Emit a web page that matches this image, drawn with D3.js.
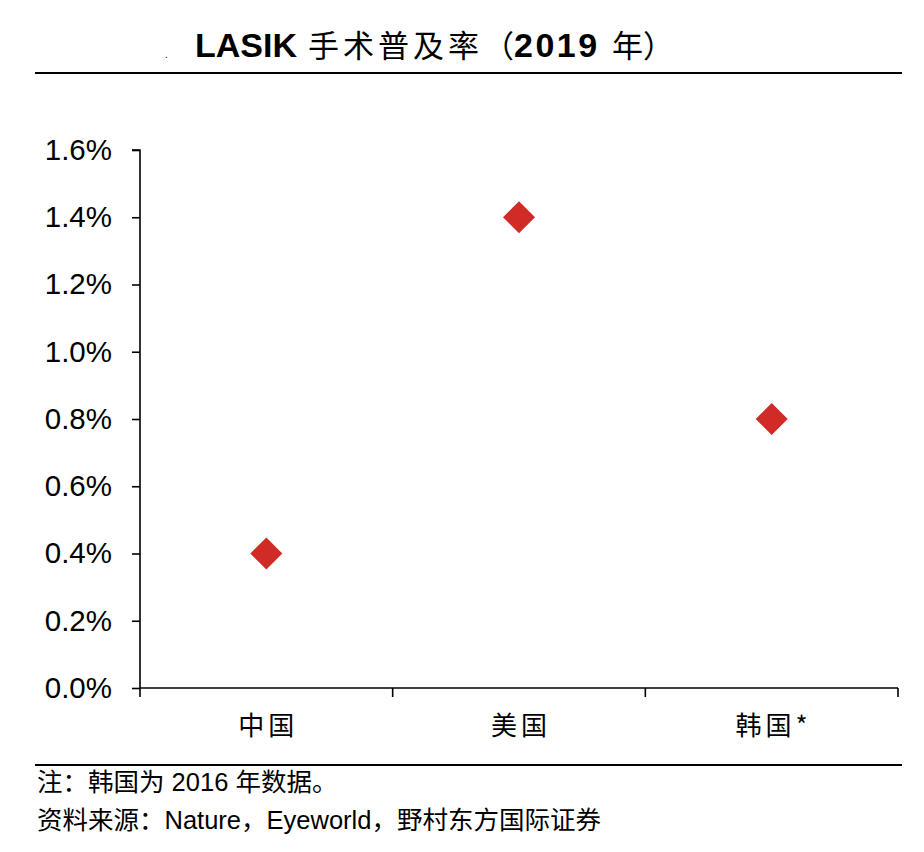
<!DOCTYPE html>
<html><head><meta charset="utf-8">
<script src="https://cdn.jsdelivr.net/npm/d3@7"></script>
<style>body{margin:0;background:#fff}svg{display:block}</style>
</head><body><svg id="c" width="924" height="852"></svg>
<script>
const categories = ["中国", "美国", "韩国*"];
const values = [0.4, 1.4, 0.8];
const yTicks = [0, 0.2, 0.4, 0.6, 0.8, 1.0, 1.2, 1.4, 1.6];
const titleParts = ["LASIK", "手术普及率（", "2019", "年", "）"];
const notes = ["注：韩国为 2016 年数据。", "资料来源：Nature，Eyeworld，野村东方国际证券"];

(function () {
const svg = d3.select("#c");
const latin = "'Liberation Sans', Arial, 'Noto Sans CJK SC', sans-serif";
const cjk = "'Noto Sans CJK SC', sans-serif";
const pL = 140, pR = 898, pT = 150, pB = 688;

// stray dot in the original header
svg.append("text").attr("x", 165).attr("y", 58).attr("font-family", latin)
  .attr("font-size", 10).attr("fill", "#000").text(".");

const t = svg.append("text").attr("y", 57).attr("fill", "#000");
const tStyle = [
  {x: 195, f: latin, s: 34, w: "bold", ls: 0},
  {x: 308, f: cjk, s: 31, w: "normal", ls: 4},
  {x: 514, f: latin, s: 34, w: "bold", ls: 2.5},
  {x: 612, f: cjk, s: 31, w: "normal", ls: 0},
  {x: 643, f: cjk, s: 31, w: "normal", ls: 0}
];
titleParts.forEach((p, i) => {
  const st = tStyle[i];
  t.append("tspan").attr("x", st.x).attr("font-family", st.f).attr("font-size", st.s)
    .attr("font-weight", st.w).attr("letter-spacing", st.ls).text(p);
});
svg.append("line").attr("x1", 35).attr("x2", 902).attr("y1", 73).attr("y2", 73)
  .attr("stroke", "#000").attr("stroke-width", 2);

const x = d3.scaleBand().domain(categories).range([pL, pR]).padding(0);
const y = d3.scaleLinear().domain([0, 1.6]).range([pB, pT]);

const gy = svg.append("g").attr("transform", `translate(${pL},0)`)
  .call(d3.axisLeft(y).tickValues(yTicks).tickSize(8).tickPadding(20).tickFormat(d => d.toFixed(1) + "%"));
gy.selectAll("text").attr("font-family", latin).attr("font-size", 29.5).attr("fill", "#000");
gy.selectAll("path,line").attr("stroke", "#000").attr("stroke-width", 1.6);
gy.select(".domain").attr("d", `M-8,${pT}H0V${pB}`);

const gx = svg.append("g").attr("transform", `translate(0,${pB})`)
  .call(d3.axisBottom(x).tickSize(0).tickPadding(29));
gx.selectAll("text").attr("font-family", cjk).attr("font-size", 26).attr("fill", "#000")
  .attr("letter-spacing", 4).attr("dx", 2);
gx.select(".domain").attr("d", `M${pL},0H${pR}`).attr("stroke", "#000").attr("stroke-width", 1.6);
const bounds = [pL].concat(categories.map(c => x(c) + x.bandwidth()));
gx.selectAll(".sep").data(bounds).join("line").attr("class", "sep")
  .attr("x1", d => d).attr("x2", d => d).attr("y1", 0).attr("y2", 9)
  .attr("stroke", "#000").attr("stroke-width", 1.6);

svg.append("g").selectAll("path").data(categories).join("path")
  .attr("transform", (c, i) => `translate(${x(c) + x.bandwidth() / 2},${y(values[i])})`)
  .attr("d", "M0,-16L16,0L0,16L-16,0Z").attr("fill", "#d12b28");

svg.append("line").attr("x1", 35).attr("x2", 902).attr("y1", 765).attr("y2", 765)
  .attr("stroke", "#000").attr("stroke-width", 2);
svg.selectAll(".note").data(notes).join("text").attr("class", "note")
  .attr("x", 37).attr("y", (d, i) => 791 + i * 38)
  .attr("font-family", latin).attr("font-size", 25.5).attr("fill", "#000").text(d => d);
})();
</script></body></html>
